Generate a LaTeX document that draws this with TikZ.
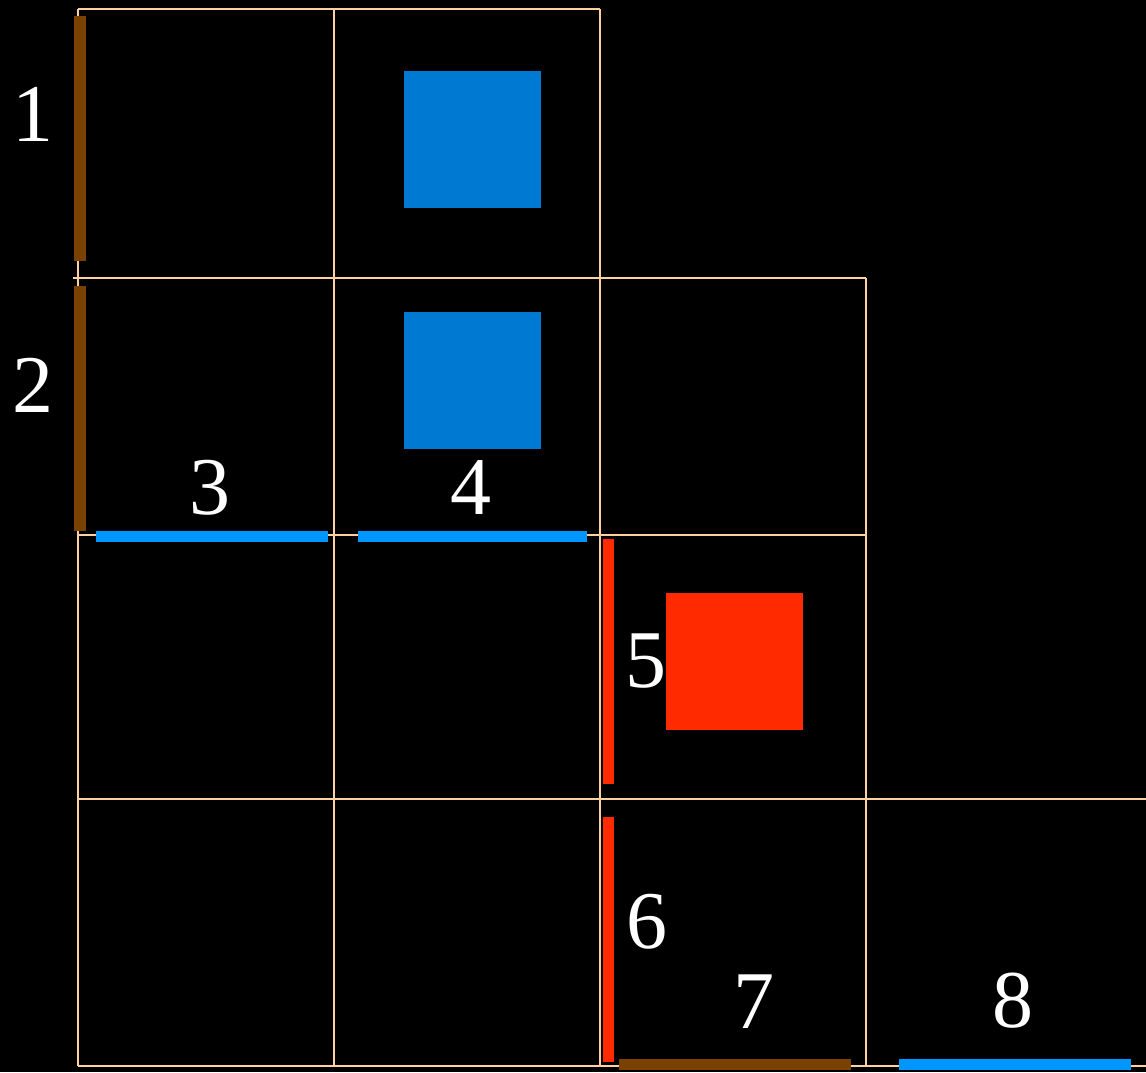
\documentclass[tikz,border=0pt]{standalone}
\usepackage{fontspec}
\setmainfont{Liberation Serif}
\usetikzlibrary{positioning}
\definecolor{gridpeach}{RGB}{255,208,160}
\definecolor{barbrown}{RGB}{122,66,0}
\definecolor{barblue}{RGB}{0,150,255}
\definecolor{sqblue}{RGB}{0,121,211}
\definecolor{redish}{RGB}{255,42,0}

\begin{document}
\begin{tikzpicture}[
  x=1pt, y=-1pt,
  gridln/.style={draw=gridpeach, line width=2.2pt},
  sq/.style={minimum size=137pt, inner sep=0pt, outer sep=0pt},
  lbl/.style={text=white, inner sep=0pt, font=\fontsize{82}{82}\selectfont}
]
% background
\fill[black] (0,0) rectangle (1146,1072);
\useasboundingbox (0,0) rectangle (1146,1072);

% grid
\draw[gridln] (78,9) -- (600,9);
\draw[gridln] (73,278) -- (866,278);
\draw[gridln] (78,535) -- (866,535);
\draw[gridln] (78,799) -- (1146,799);
\draw[gridln] (78,1066) -- (1146,1066);
\draw[gridln] (78,9) -- (78,1066);
\draw[gridln] (334,9) -- (334,1066);
\draw[gridln] (600,9) -- (600,1066);
\draw[gridln] (866,278) -- (866,1066);

% squares
\node[sq, fill=sqblue] (sqtop) at (472.5,139.5) {};
\node[sq, fill=sqblue] (sqmid) at (472.5,380.5) {};
\node[sq, fill=redish] (sqred) at (734.5,661.5) {};

% bars
\fill[barbrown] (74,16) rectangle (86,261);
\fill[barbrown] (74,286) rectangle (86,531);
\fill[barblue] (96,531) rectangle (328,542);
\fill[barblue] (358,531) rectangle (587,542);
\fill[redish] (603,539) rectangle (614,784);
\fill[redish] (603,817) rectangle (614,1062);
\fill[barbrown] (619,1059) rectangle (851,1070);
\fill[barblue] (899,1059) rectangle (1131,1070);

% labels
\node[lbl] (one) at (33,114) {1};
\node[lbl] (two) at (33,385) {2};
\node[lbl] (three) at (210,488) {3};
\node[lbl] (four) at (471,488) {4};
\node[lbl] (five) at (646,661) {5};
\node[lbl] (six) at (647,922) {6};
\node[lbl] (seven) at (754,1002) {7};
\node[lbl] (eight) at (1013,1001) {8};
\end{tikzpicture}
\end{document}
